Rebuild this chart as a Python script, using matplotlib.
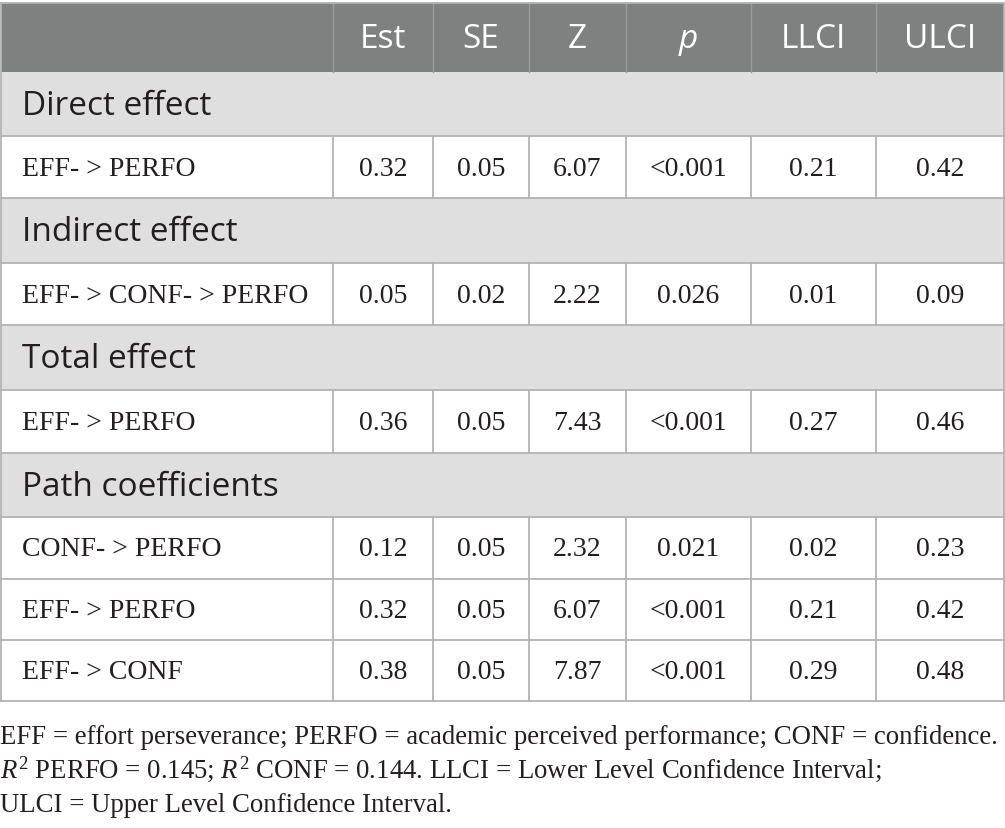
import matplotlib.pyplot as plt
from matplotlib.patches import Rectangle

# 표 데이터
columns = ['Est', 'SE', 'Z', 'p', 'LLCI', 'ULCI']
sections = ['Direct effect', 'Indirect effect', 'Total effect', 'Path coefficients']
row_labels = [
    ['EFF- > PERFO'],
    ['EFF- > CONF- > PERFO'],
    ['EFF- > PERFO'],
    ['CONF- > PERFO', 'EFF- > PERFO', 'EFF- > CONF'],
]
est = [[0.32], [0.05], [0.36], [0.12, 0.32, 0.38]]
se = [[0.05], [0.02], [0.05], [0.05, 0.05, 0.05]]
zval = [[6.07], [2.22], [7.43], [2.32, 6.07, 7.87]]
pval = [['<0.001'], ['0.026'], ['<0.001'], ['0.021', '<0.001', '<0.001']]
llci = [[0.21], [0.01], [0.27], [0.02, 0.21, 0.29]]
ulci = [[0.42], [0.09], [0.46], [0.23, 0.42, 0.48]]
notes = [
    'EFF = effort perseverance; PERFO = academic perceived performance; CONF = confidence.',
    r'$R^2$ PERFO = 0.145; $R^2$ CONF = 0.144. LLCI = Lower Level Confidence Interval;',
    'ULCI = Upper Level Confidence Interval.',
]

col_x = [1, 333, 433, 529, 626, 751, 876, 1004]
header_bot = 73
row_edges = [73, 137, 199, 264, 326, 391, 454, 518, 580, 641, 702]

head_c = '#7f8180'
sec_c = '#e0dfe0'
line_c = '#b3b3b3'
sans = 'Open Sans'
serif = 'Liberation Serif'

plt.rcParams['mathtext.fontset'] = 'custom'
plt.rcParams['mathtext.it'] = 'Liberation Serif:italic'
plt.rcParams['mathtext.rm'] = 'Liberation Serif'

fig = plt.figure(figsize=(10.05, 8.29), dpi=100)
ax = fig.add_axes([0, 0, 1, 1])
ax.set_xlim(0, 1005)
ax.set_ylim(829, 0)
ax.axis('off')

# 헤더
ax.add_patch(Rectangle((col_x[0], 4), col_x[-1] - col_x[0], header_bot - 4,
                       facecolor=head_c, edgecolor='none'))
for i, name in enumerate(columns):
    cx = (col_x[i + 1] + col_x[i + 2]) / 2
    ax.text(cx, (4 + header_bot) / 2 + 1, name, ha='center', va='center',
            color='white', fontsize=24, family=sans,
            style='italic' if name == 'p' else 'normal')
for x in col_x[1:-1]:
    ax.plot([x, x], [4, header_bot], color='#9a9c9b', lw=1)

r = 0
for s, sec in enumerate(sections):
    y0, y1 = row_edges[r], row_edges[r + 1]
    ax.add_patch(Rectangle((col_x[0], y0), col_x[-1] - col_x[0], y1 - y0,
                           facecolor=sec_c, edgecolor='none'))
    ax.text(22, (y0 + y1) / 2 + 1, sec, ha='left', va='center',
            fontsize=24, family=sans, color='#231f20')
    ax.plot([col_x[0], col_x[-1]], [y1, y1], color=line_c, lw=1.3)
    r += 1
    for k, lab in enumerate(row_labels[s]):
        y0, y1 = row_edges[r], row_edges[r + 1]
        cy = (y0 + y1) / 2
        ax.text(22, cy + 1, lab, ha='left', va='center', fontsize=20,
                family=serif, color='#231f20')
        vals = [f'{est[s][k]:.2f}', f'{se[s][k]:.2f}', f'{zval[s][k]:.2f}',
                pval[s][k], f'{llci[s][k]:.2f}', f'{ulci[s][k]:.2f}']
        for i, v in enumerate(vals):
            cx = (col_x[i + 1] + col_x[i + 2]) / 2
            ax.text(cx, cy + 1, v, ha='center', va='center', fontsize=20,
                    family=serif, color='#231f20')
        for x in col_x[1:-1]:
            ax.plot([x, x], [y0, y1], color=line_c, lw=1.3)
        ax.plot([col_x[0], col_x[-1]], [y1, y1], color=line_c, lw=1.3)
        r += 1

# 외곽선
ax.plot([col_x[0], col_x[0]], [4, row_edges[-1]], color=line_c, lw=1.3)
ax.plot([col_x[-1], col_x[-1]], [4, row_edges[-1]], color=line_c, lw=1.3)
ax.plot([col_x[0], col_x[-1]], [4, 4], color=line_c, lw=1.3)

# 각주 (기준선 정렬)
for j, line in enumerate(notes):
    ax.text(0, 744 + j * 34, line, ha='left', va='baseline', fontsize=19.3,
            family=serif, color='#231f20')

fig.savefig('out.png', dpi=100)
